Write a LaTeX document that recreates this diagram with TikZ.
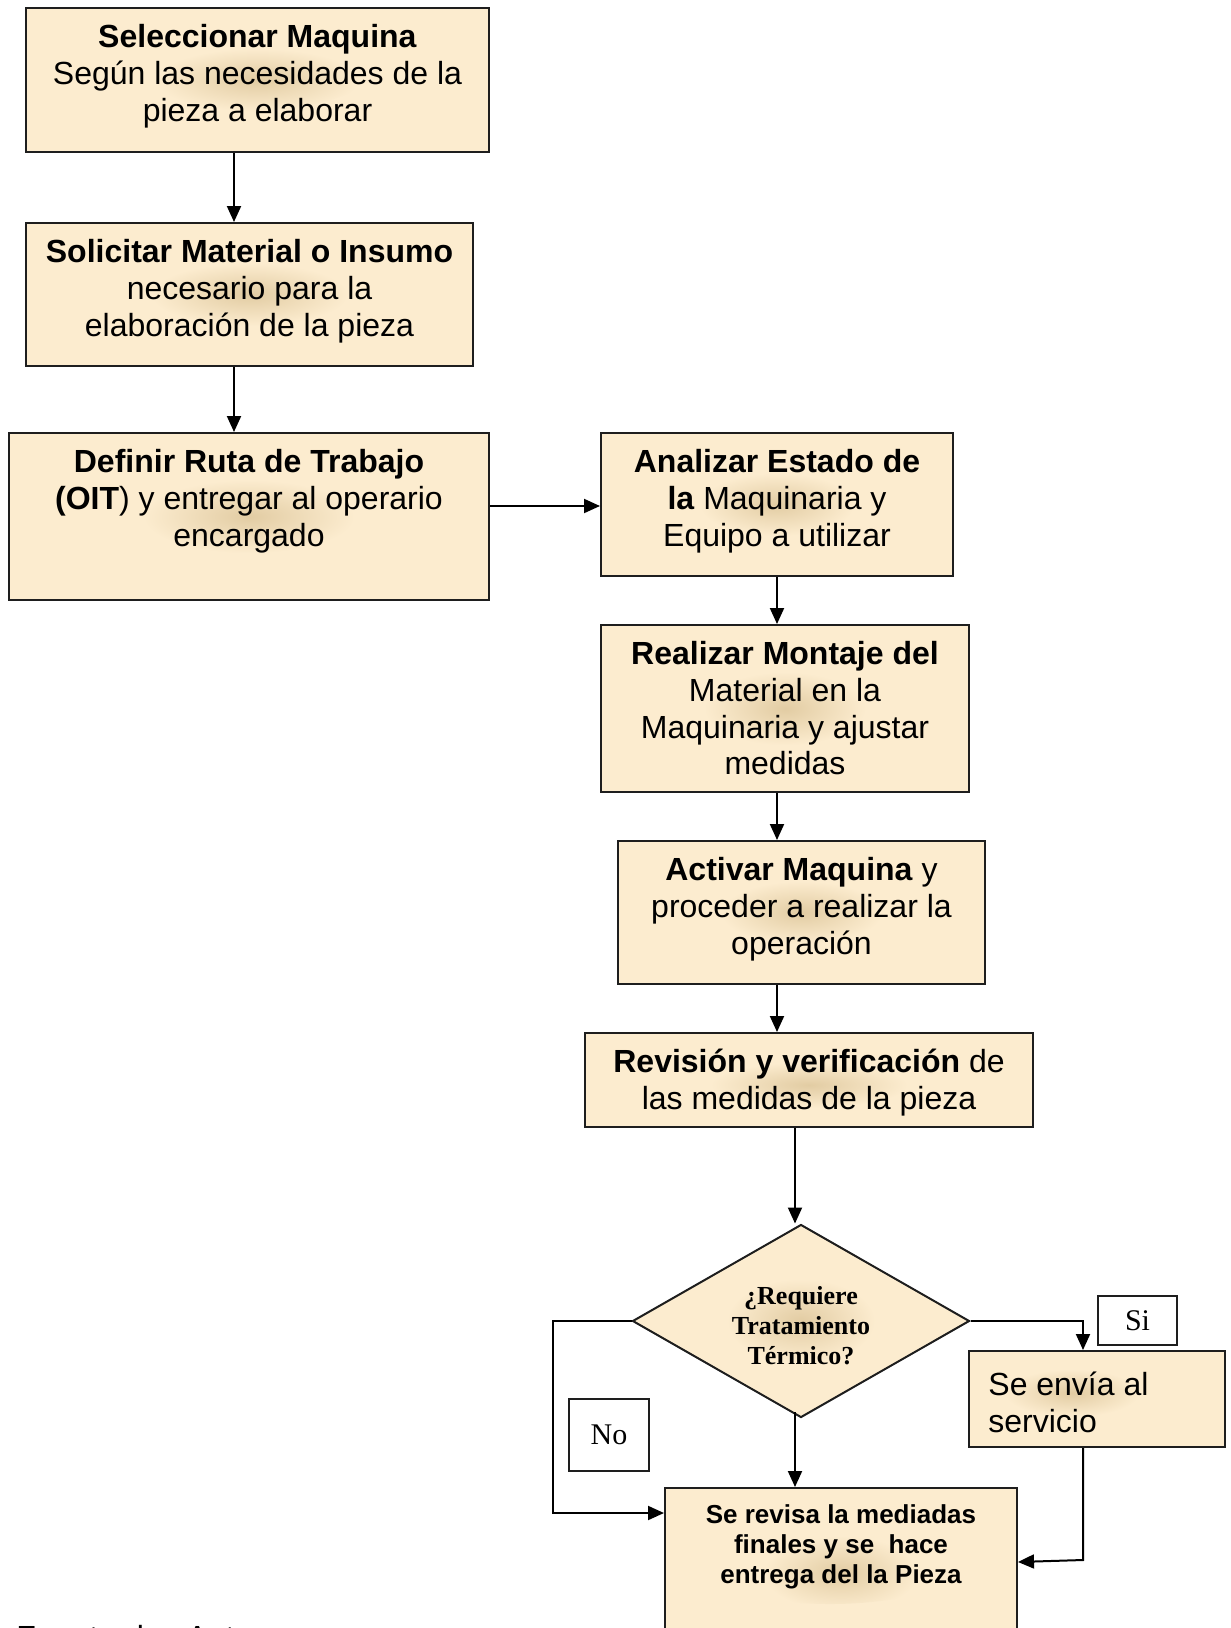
\documentclass[tikz,border=0pt]{standalone}
\usepackage{fontspec}
\setmainfont{Liberation Sans}
\newfontfamily\serifface{Liberation Serif}
\usetikzlibrary{arrows.meta,shapes.geometric,calc}
\definecolor{boxfill}{RGB}{252,236,207}
\definecolor{blobc}{RGB}{226,204,163}
\definecolor{edge}{RGB}{30,30,30}
% soft spot in the middle of each filled shape, fading out well before its edge
\pgfdeclareradialshading{softspot}{\pgfpoint{0bp}{0bp}}{color(0bp)=(blobc); color(11bp)=(boxfill); color(50bp)=(boxfill)}

\begin{document}
\begin{tikzpicture}[x=0.5pt,y=-0.5pt,
  stepbox/.style={draw=edge, line width=1pt, fill=boxfill, rectangle, inner sep=0pt},
  blob/.style 2 args={path picture={\shade[shading=softspot]
      ([xshift=#1,yshift=#2]path picture bounding box.center) ellipse [x radius=75pt, y radius=26pt];}},
  decision/.style={draw=edge, line width=1pt, fill=boxfill, diamond, inner sep=0pt},
  tagbox/.style={draw=edge, line width=1pt, fill=white, rectangle, inner sep=0pt,
      font=\serifface\fontsize{15}{17}\selectfont},
  txt/.style={inner sep=0pt, align=center, anchor=north, font=\fontsize{16}{18.4}\selectfont},
  arr/.style={-{Triangle[length=8pt,width=7pt]}, line width=1pt, draw=black},
  ln/.style={line width=1pt, draw=black}
]
\useasboundingbox (0,0) rectangle (1231,1628);
\clip (0,0) rectangle (1231,1628);

% process boxes
\node[stepbox, blob={-11.75pt}{10pt}, minimum width=231.5pt, minimum height=72pt]   (b1) at (257.5,80) {};
\node[stepbox, blob={-13pt}{-3pt}, minimum width=223.5pt, minimum height=71.5pt]    (b2) at (249.5,294.5) {};
\node[stepbox, blob={5.5pt}{3.75pt}, minimum width=240pt, minimum height=83.5pt]    (b3) at (249,516.5) {};
\node[stepbox, blob={-2pt}{4pt}, minimum width=176pt, minimum height=71.5pt]        (b4) at (777,504.5) {};
\node[stepbox, blob={-6pt}{1pt}, minimum width=184pt, minimum height=83.5pt]        (b5) at (785,708.5) {};
\node[stepbox, blob={-6pt}{2pt}, minimum width=183.5pt, minimum height=71.5pt]      (b6) at (801.5,912.5) {};
\node[stepbox, blob={-10pt}{-2.5pt}, minimum width=224pt, minimum height=47pt]      (b7) at (809,1080) {};
\node[decision, blob={-1pt}{5.5pt}, minimum width=168.5pt, minimum height=96.5pt]   (dia) at (801,1321) {};
\node[stepbox, blob={-14pt}{4pt}, minimum width=128pt, minimum height=48pt]         (env) at (1097,1399) {};
\node[stepbox, blob={-5.5pt}{10.5pt}, minimum width=176pt, minimum height=85pt]     (fin) at (841,1573) {};

% answer tags
\node[tagbox, minimum width=39.5pt, minimum height=24.5pt] (si) at (1137.5,1320.5) {Si};
\node[tagbox, minimum width=40pt, minimum height=36pt]     (no) at (609,1435) {No};

% box texts
\node[txt] (t1) at ([yshift=-8.5pt]b1.north) {\textbf{Seleccionar Maquina}\\Según las necesidades de la\\pieza a elaborar};
\node[txt] (t2) at ([yshift=-8.5pt]b2.north) {\textbf{Solicitar Material o Insumo}\\necesario para la\\elaboración de la pieza};
\node[txt] (t3) at ([yshift=-8.5pt]b3.north) {\textbf{Definir Ruta de Trabajo}\\\textbf{(OIT}) y entregar al operario\\encargado};
\node[txt] (t4) at ([yshift=-8.5pt]b4.north) {\textbf{Analizar Estado de}\\\textbf{la} Maquinaria y\\Equipo a utilizar};
\node[txt] (t5) at ([yshift=-8.5pt]b5.north) {\textbf{Realizar Montaje del}\\Material en la\\Maquinaria y ajustar\\medidas};
\node[txt] (t6) at ([yshift=-8.5pt]b6.north) {\textbf{Activar Maquina} y\\proceder a realizar la\\operación};
\node[txt] (t7) at ([yshift=-8.5pt]b7.north) {\textbf{Revisión y verificación} de\\las medidas de la pieza};
\node[inner sep=0pt, align=center, font=\serifface\bfseries\fontsize{13}{15}\selectfont]
  (td) at ([yshift=-2.5pt]dia.center) {¿Requiere\\Tratamiento\\Térmico?};
\node[txt, anchor=north west, align=left] (te) at ([xshift=10pt,yshift=-10.75pt]env.north west) {Se envía al\\servicio};
\node[txt, font=\bfseries\fontsize{13}{15}\selectfont] (tf) at ([yshift=-8.5pt]fin.north)
  {Se revisa la mediadas\\finales y se\ \ hace\\entrega del la Pieza};

% source note, running off the lower edge
\node[inner sep=0pt, anchor=base west, font=\fontsize{16}{18.4}\selectfont] (src) at (16,1648) {Fuente: los Autores};

% connectors
\draw[arr] (234,0 |- b1.south) -- (234,0 |- b2.north);
\draw[arr] (234,0 |- b2.south) -- (234,0 |- b3.north);
\draw[arr] (b3.east |- 0,506) -- (b4.west |- 0,506);
\draw[arr] (777,0 |- b4.south) -- (777,0 |- b5.north);
\draw[arr] (777,0 |- b5.south) -- (777,0 |- b6.north);
\draw[arr] (777,0 |- b6.south) -- (777,0 |- b7.north);
\draw[arr] (795,0 |- b7.south) -- (795,0 |- dia.north);
\draw[arr] (795,1412) -- (795,0 |- fin.north);
\draw[arr] (dia.west) -- (553,0 |- dia.west) -- (553,1513) -- (fin.west |- 0,1513);
\draw[arr] (dia.east) -- (1083,0 |- dia.east) -- (1083,0 |- env.north);
\draw[arr] (1083,0 |- env.south) -- (1083,1560) -- (fin.east |- 0,1562);
\end{tikzpicture}
\end{document}
